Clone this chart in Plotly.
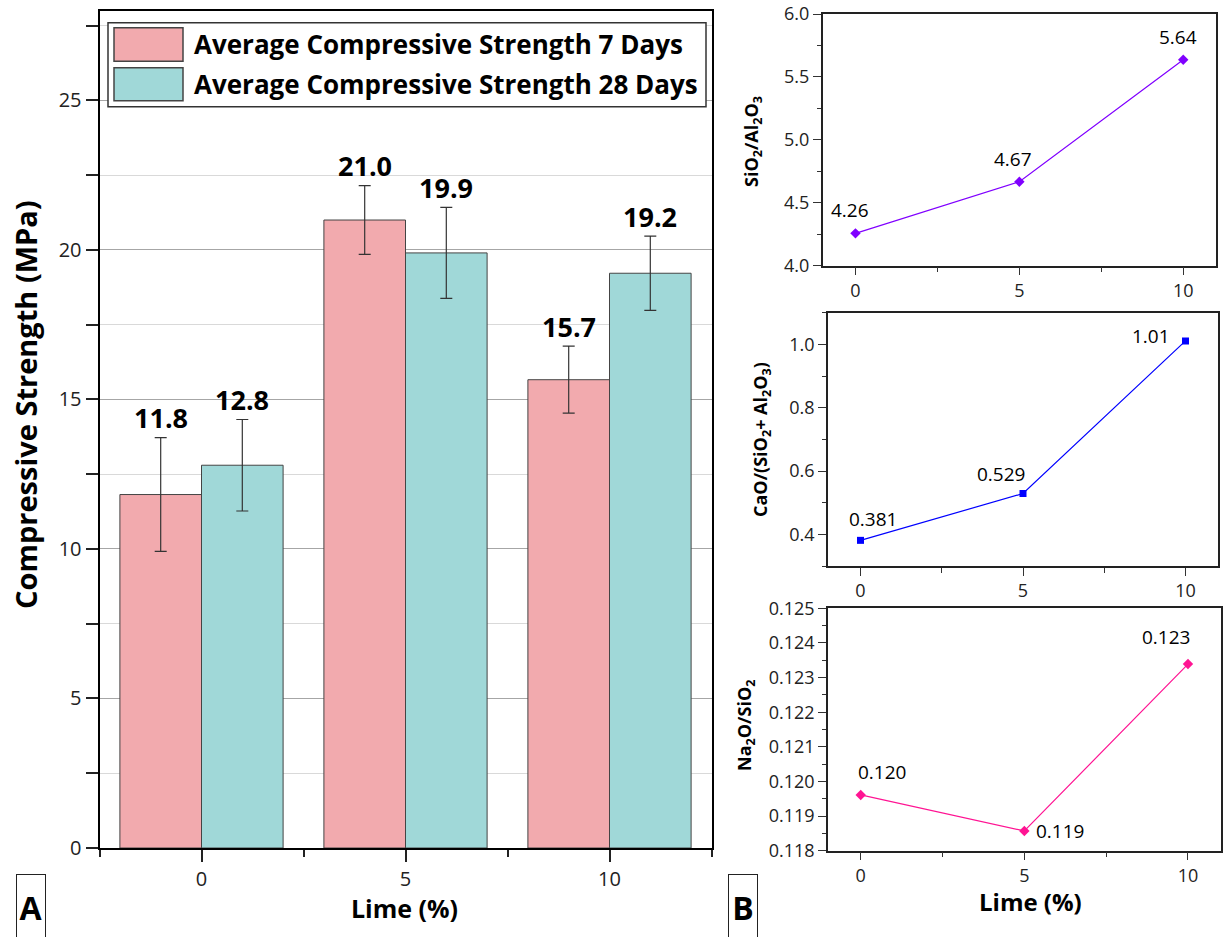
import plotly.graph_objects as go

# ---------------- data ----------------
lime = [0, 5, 10]
strength_7d = [11.82, 21.0, 15.66]
err_7d = [1.9, 1.15, 1.12]
strength_28d = [12.8, 19.9, 19.22]
err_28d = [1.53, 1.52, 1.24]

sio2_al2o3 = [4.257, 4.667, 5.637]
sio2_al2o3_labels = ["4.26", "4.67", "5.64"]
cao_ratio = [0.381, 0.529, 1.011]
cao_ratio_labels = ["0.381", "0.529", "1.01"]
na2o_sio2 = [0.11961, 0.11857, 0.12339]
na2o_sio2_labels = ["0.120", "0.119", "0.123"]

legend_names = ["Average Compressive Strength 7 Days", "Average Compressive Strength 28 Days"]

# ---------------- style ----------------
W, H = 1232, 937
FONT = "Open Sans"
PINK = "#F2AAAE"
TEAL = "#A0D8D8"
PURPLE = "#8000FF"
BLUE = "#0000FF"
MAGENTA = "#FF1493"


def px_x(p):
    return p / W


def px_y(p):
    return 1 - p / H


fig = go.Figure()

# bars
fig.add_trace(go.Bar(
    x=lime, y=strength_7d, name=legend_names[0], marker=dict(color=PINK, line=dict(color="#444", width=1)),
    error_y=dict(type="data", array=err_7d, color="#333", thickness=1.2, width=6),
    showlegend=False, xaxis="x", yaxis="y"))
fig.add_trace(go.Bar(
    x=lime, y=strength_28d, name=legend_names[1], marker=dict(color=TEAL, line=dict(color="#444", width=1)),
    error_y=dict(type="data", array=err_28d, color="#333", thickness=1.2, width=6),
    showlegend=False, xaxis="x", yaxis="y"))

# line panels
fig.add_trace(go.Scatter(x=lime, y=sio2_al2o3, mode="lines+markers",
                         line=dict(color=PURPLE, width=1.2),
                         marker=dict(symbol="diamond", size=8, color=PURPLE),
                         showlegend=False, xaxis="x2", yaxis="y2"))
fig.add_trace(go.Scatter(x=lime, y=cao_ratio, mode="lines+markers",
                         line=dict(color=BLUE, width=1.2),
                         marker=dict(symbol="square", size=7, color=BLUE),
                         showlegend=False, xaxis="x3", yaxis="y3"))
fig.add_trace(go.Scatter(x=lime, y=na2o_sio2, mode="lines+markers",
                         line=dict(color=MAGENTA, width=1.2),
                         marker=dict(symbol="diamond", size=8, color=MAGENTA),
                         showlegend=False, xaxis="x4", yaxis="y4"))

annotations = []

# bar value labels
for i, c in enumerate(lime):
    annotations.append(dict(x=c - 1, y=strength_7d[i] + err_7d[i], xref="x", yref="y",
                            text=f"{strength_7d[i]:.1f}", showarrow=False,
                            xanchor="center", yanchor="middle", yshift=20,
                            font=dict(family=FONT, size=27, color="black", weight=700)))
    annotations.append(dict(x=c + 1, y=strength_28d[i] + err_28d[i], xref="x", yref="y",
                            text=f"{strength_28d[i]:.1f}", showarrow=False,
                            xanchor="center", yanchor="middle", yshift=20,
                            font=dict(family=FONT, size=27, color="black", weight=700)))

# line panel labels (pixel offsets from points)
offsets_p1 = [(-5, 23), (-6, 23), (-5, 23)]
offsets_p2 = [(12, 21), (-22, 19), (-35, 5)]
offsets_p3 = [(21, 23), (36, 0), (-22, 27)]
for (ax, vals, labs, offs) in [("2", sio2_al2o3, sio2_al2o3_labels, offsets_p1),
                               ("3", cao_ratio, cao_ratio_labels, offsets_p2),
                               ("4", na2o_sio2, na2o_sio2_labels, offsets_p3)]:
    for i, c in enumerate(lime):
        annotations.append(dict(x=c, y=vals[i], xref="x" + ax, yref="y" + ax, text=labs[i],
                                showarrow=False, xanchor="center", yanchor="middle",
                                xshift=offs[i][0], yshift=offs[i][1],
                                font=dict(family=FONT, size=19, color="black")))


def paper_text(x, y, text, size, angle=0, bold=True, **kw):
    return dict(x=px_x(x), y=px_y(y), xref="paper", yref="paper", text=text, textangle=angle,
                showarrow=False, xanchor=kw.pop("xanchor", "center"), yanchor=kw.pop("yanchor", "middle"),
                font=dict(family=FONT, size=size, color="black", weight=700 if bold else 400), **kw)


# axis titles
annotations += [
    paper_text(25, 405, "Compressive Strength (MPa)", 29, -90),
    paper_text(404, 908, "Lime (%)", 25),
    paper_text(1030, 901, "Lime (%)", 24),
    paper_text(753, 142, "SiO<sub>2</sub>/Al<sub>2</sub>O<sub>3</sub>", 18, -90),
    paper_text(762, 440, "CaO/(SiO<sub>2</sub>+ Al<sub>2</sub>O<sub>3</sub>)", 18, -90),
    paper_text(745, 726, "Na<sub>2</sub>O/SiO<sub>2</sub>", 18, -90),
]

# legend texts
for name, yc in zip(legend_names, [44.5, 84]):
    annotations.append(paper_text(192, yc, name, 26, xanchor="left"))

# panel letters
for letter, xl in [("A", 16), ("B", 728)]:
    annotations.append(paper_text(xl, 874, letter, 32, xanchor="left", yanchor="top",
                                  width=26, height=62, borderpad=1, bordercolor="#222", borderwidth=1,
                                  bgcolor="white", valign="middle", align="center"))

shapes = [
    # legend box
    dict(type="rect", xref="paper", yref="paper", x0=px_x(108), x1=px_x(706), y0=px_y(106.7), y1=px_y(22.7),
         line=dict(color="#333", width=1.5), fillcolor="white", layer="above"),
    dict(type="rect", xref="paper", yref="paper", x0=px_x(114), x1=px_x(183), y0=px_y(61.3), y1=px_y(27.7),
         line=dict(color="#444", width=1.5), fillcolor=PINK, layer="above"),
    dict(type="rect", xref="paper", yref="paper", x0=px_x(114), x1=px_x(183), y0=px_y(100.7), y1=px_y(67.7),
         line=dict(color="#444", width=1.5), fillcolor=TEAL, layer="above"),
]

tick_font = dict(family=FONT, size=20, color="#222")
small_tick_font = dict(family=FONT, size=18, color="#222")

panel_x = dict(range=[-1, 11], tickvals=[0, 5, 10], ticks="outside", ticklen=8, tickwidth=1.2,
               tickcolor="#333", showline=True, linecolor="#222", linewidth=1.5, mirror=True,
               showgrid=False, zeroline=False, tickfont=small_tick_font, automargin=False,
               minor=dict(tick0=0, dtick=2.5, ticks="outside", ticklen=5, tickcolor="#333", showgrid=False))


def panel_y(rng, dtick, mdtick, fmt, dom):
    return dict(range=rng, dtick=dtick, tick0=0, tickformat=fmt, ticks="outside", ticklen=8, tickwidth=1.2,
                tickcolor="#333", showline=True, linecolor="#222", linewidth=1.5, mirror=True,
                showgrid=False, zeroline=False, tickfont=small_tick_font, domain=dom, automargin=False,
                minor=dict(tick0=0, dtick=mdtick, ticks="outside", ticklen=4, tickcolor="#333", showgrid=False))


fig.update_layout(
    width=W, height=H, margin=dict(l=0, r=0, t=0, b=0, pad=0, autoexpand=False),
    paper_bgcolor="white", plot_bgcolor="white", showlegend=False,
    barmode="group", bargap=0.2, bargroupgap=0,
    xaxis=dict(domain=[px_x(99.5), px_x(711.5)], range=[-2.5, 12.5], tickvals=[0, 5, 10],
               ticks="outside", ticklen=12, tickwidth=1.5, tickcolor="#222",
               showline=True, linecolor="black", linewidth=2, mirror=True, automargin=False,
               showgrid=False, zeroline=False, tickfont=tick_font, anchor="y",
               minor=dict(tick0=0, dtick=2.5, ticks="outside", ticklen=7, tickcolor="#222", showgrid=False)),
    yaxis=dict(domain=[px_y(848), px_y(10.7)], range=[0, 28], dtick=5, tick0=0,
               ticks="outside", ticklen=12, tickwidth=1.5, tickcolor="#222",
               showline=True, linecolor="black", linewidth=2, mirror=True, automargin=False,
               showgrid=True, gridcolor="#a6a6a6", gridwidth=1, zeroline=False,
               tickfont=tick_font, anchor="x",
               minor=dict(tick0=0, dtick=2.5, ticks="outside", ticklen=12, tickcolor="#222",
                          showgrid=True, gridcolor="#d9d9d9", gridwidth=1)),
    xaxis2=dict(panel_x, domain=[px_x(822.7), px_x(1216)], anchor="y2"),
    yaxis2=panel_y([4.0, 6.0], 0.5, 0.25, ".1f", [px_y(265.7), px_y(14)]) | dict(anchor="x2"),
    xaxis3=dict(panel_x, domain=[px_x(828), px_x(1218)], anchor="y3"),
    yaxis3=panel_y([0.3, 1.1], 0.2, 0.1, ".1f", [px_y(566), px_y(312.7)]) | dict(anchor="x3"),
    xaxis4=dict(panel_x, domain=[px_x(828), px_x(1220.7)], anchor="y4"),
    yaxis4=panel_y([0.118, 0.125], 0.001, 0.0005, ".3f", [px_y(850.7), px_y(608.3)]) | dict(anchor="x4"),
    annotations=annotations,
    shapes=shapes,
)

fig.write_html("out.html")
